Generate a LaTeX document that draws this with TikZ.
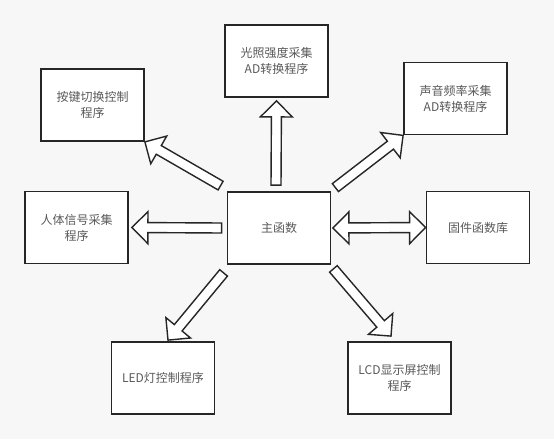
\documentclass[tikz,border=0pt]{standalone}
\usepackage{fontspec}
\newfontfamily\cjk{Noto Sans CJK SC}
\usetikzlibrary{calc}
\tikzset{
  prog/.style={draw=black!85, line width=1.8pt, fill=white, minimum width=103pt, minimum height=72pt,
    inner sep=0pt, align=center, text=black!65, font=\cjk\fontsize{12}{16}\selectfont},
  blockarrow/.style={draw=black!85, line width=1.4pt, fill=white, line join=miter,
    to path={($(\tikztostart)!5pt!-90:(\tikztotarget)$)
      -- ($(\tikztotarget)!16pt!(\tikztostart)!5pt!90:(\tikztostart)$)
      -- ($(\tikztotarget)!16pt!(\tikztostart)!16pt!90:(\tikztostart)$)
      -- (\tikztotarget)
      -- ($(\tikztotarget)!16pt!(\tikztostart)!16pt!-90:(\tikztostart)$)
      -- ($(\tikztotarget)!16pt!(\tikztostart)!5pt!-90:(\tikztostart)$)
      -- ($(\tikztostart)!5pt!90:(\tikztotarget)$) -- cycle}},
  twowayarrow/.style={draw=black!85, line width=1.4pt, fill=white, line join=miter,
    to path={(\tikztostart)
      -- ($(\tikztostart)!16pt!(\tikztotarget)!16pt!90:(\tikztotarget)$)
      -- ($(\tikztostart)!16pt!(\tikztotarget)!5pt!90:(\tikztotarget)$)
      -- ($(\tikztotarget)!16pt!(\tikztostart)!5pt!-90:(\tikztostart)$)
      -- ($(\tikztotarget)!16pt!(\tikztostart)!16pt!-90:(\tikztostart)$)
      -- (\tikztotarget)
      -- ($(\tikztotarget)!16pt!(\tikztostart)!16pt!90:(\tikztostart)$)
      -- ($(\tikztotarget)!16pt!(\tikztostart)!5pt!90:(\tikztostart)$)
      -- ($(\tikztostart)!16pt!(\tikztotarget)!5pt!-90:(\tikztotarget)$)
      -- ($(\tikztostart)!16pt!(\tikztotarget)!16pt!-90:(\tikztotarget)$) -- cycle}}
}
\begin{document}
\begin{tikzpicture}[x=1pt,y=-1pt]
\fill[black!3] (0,0) rectangle (554,439);
\useasboundingbox (0,0) rectangle (554,439);
\node[prog] (main) at (279,228) {主函数};
\node[prog] (key) at (92.5,105) {按键切换控制\\程序};
\node[prog] (light) at (276.5,61) {光照强度采集\\AD转换程序};
\node[prog] (sound) at (455.5,98.5) {声音频率采集\\AD转换程序};
\node[prog] (human) at (76.5,227.5) {人体信号采集\\程序};
\node[prog] (lib) at (478,227.5) {固件函数库};
\node[prog] (led) at (163,378) {LED灯控制程序};
\node[prog] (lcd) at (399.5,378) {LCD显示屏控制\\程序};
\draw[blockarrow] ([xshift=-6pt,yshift=5.5pt]main.north west) to (key.south east);
\draw[blockarrow] ([xshift=-3pt,yshift=6pt]main.north) to ([yshift=-3pt]light.south);
\draw[blockarrow] ([xshift=4pt,yshift=3.5pt]main.north east) to (sound.south west);
\draw[blockarrow] ([xshift=-5pt]main.west) to ([xshift=3pt]human.east);
\draw[twowayarrow] ([xshift=1.5pt]main.east) to (lib.west);
\draw[blockarrow] ([xshift=-3pt,yshift=-8pt]main.south west) to ([xshift=5pt,yshift=1pt]led.north);
\draw[blockarrow] ([xshift=2pt,yshift=-4pt]main.south east) to ([xshift=-8.5pt,yshift=5pt]lcd.north);
\end{tikzpicture}
\end{document}
